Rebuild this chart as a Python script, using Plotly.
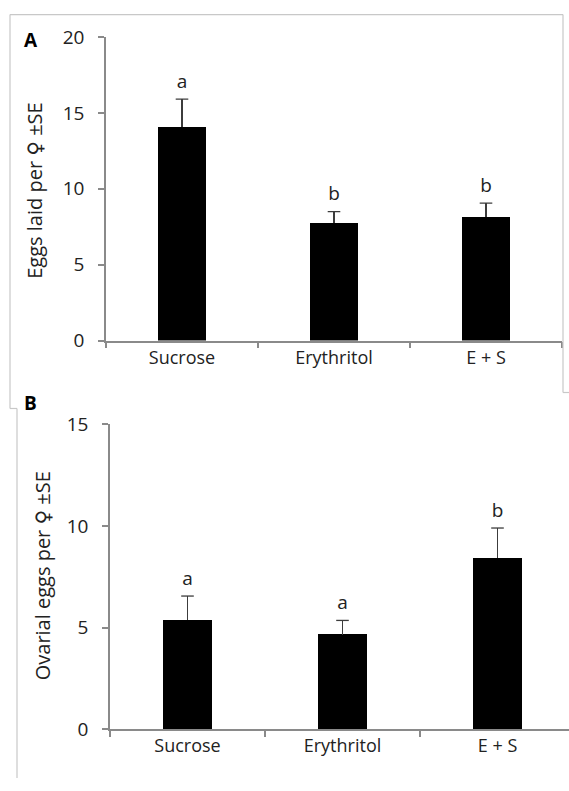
import plotly.graph_objects as go

categories = ["Sucrose", "Erythritol", "E + S"]

eggs_laid = [14.05, 7.75, 8.15]
eggs_laid_err_top = [15.9, 8.5, 9.05]
eggs_laid_letters = ["a", "b", "b"]

ovarial_eggs = [5.35, 4.65, 8.4]
ovarial_eggs_err_top = [6.55, 5.35, 9.9]
ovarial_letters = ["a", "a", "b"]

y_ticks_a = [0, 5, 10, 15, 20]
y_ticks_b = [0, 5, 10, 15]

title_a = "Eggs laid per \u2640 \u00b1SE"
title_b = "Ovarial eggs per \u2640 \u00b1SE"

W, H = 569, 791
FONT = "Open Sans"
AXCOL = "#8a8a8a"
ERRCOL = "#3c3c3c"


def px(x):
    return x / W


def py(y):
    # vertical placement as observed in the photographed page
    return (778 - y) / 766


fig = go.Figure()


def add_panel(vals, err_top, letters, xa, ya):
    plus = [e - v for e, v in zip(err_top, vals)]
    fig.add_trace(go.Bar(
        x=categories, y=vals, width=0.31,
        marker=dict(color="black", line=dict(width=0)),
        error_y=dict(type="data", array=plus, arrayminus=[0] * len(vals),
                     symmetric=False, color=ERRCOL, thickness=1.3, width=0),
        xaxis=xa, yaxis=ya, showlegend=False, hoverinfo="skip"))
    fig.add_trace(go.Scatter(
        x=categories, y=err_top, mode="markers+text", text=letters,
        marker=dict(symbol="line-ew", size=9,
                    line=dict(color=ERRCOL, width=1.3)),
        textposition="top center",
        textfont=dict(family=FONT, size=19, color="#222"),
        xaxis=xa, yaxis=ya, showlegend=False, hoverinfo="skip"))


add_panel(eggs_laid, eggs_laid_err_top, eggs_laid_letters, "x", "y")
add_panel(ovarial_eggs, ovarial_eggs_err_top, ovarial_letters, "x2", "y2")

xcommon = dict(type="category", showline=True, linecolor=AXCOL, linewidth=1.5,
               ticks="outside", tickson="boundaries", ticklen=6, tickcolor=AXCOL,
               tickwidth=1.5, showgrid=False, zeroline=False,
               tickfont=dict(family=FONT, size=18, color="#222"),
               fixedrange=True)
ycommon = dict(showline=True, linecolor=AXCOL, linewidth=1.5, ticks="outside",
               ticklen=6, tickcolor=AXCOL, tickwidth=1.5, showgrid=False,
               zeroline=False, tickfont=dict(family=FONT, size=19, color="#222"),
               ticklabelstandoff=10, fixedrange=True)

fig.update_layout(
    width=W, height=H, autosize=False,
    margin=dict(l=0, r=0, t=0, b=0, pad=0),
    paper_bgcolor="white", plot_bgcolor="white",
    font=dict(family=FONT, color="#222"),
    bargap=0,
    xaxis=dict(xcommon, domain=[px(106), px(562)], range=[-0.5, 2.5],
               anchor="y"),
    yaxis=dict(ycommon, domain=[py(340), py(36)], range=[0, 20],
               tickvals=y_ticks_a, anchor="x"),
    xaxis2=dict(xcommon, domain=[px(110), 1.0], range=[-0.5, 2.5 - 6 / 155],
                anchor="y2"),
    yaxis2=dict(ycommon, domain=[py(729), py(424)], range=[0, 15],
                tickvals=y_ticks_b, anchor="x2"),
)

FEM = '<span style="font-family:DejaVu Sans">\u2640</span>'
for txt, cx, cy in [(title_a, 35, 190), (title_b, 42, 576)]:
    fig.add_annotation(text=txt.replace("\u2640", FEM), textangle=-90,
                       x=px(cx), y=py(cy), xref="paper", yref="paper",
                       xanchor="center", yanchor="middle", showarrow=False,
                       font=dict(family=FONT, size=20, color="#222"))

fig.add_annotation(text="<b>A</b>", x=px(22), y=py(24), xref="paper", yref="paper",
                   showarrow=False, font=dict(family=FONT, size=19, color="black"))
fig.add_annotation(text="<b>B</b>", x=px(22), y=py(403), xref="paper", yref="paper",
                   showarrow=False, font=dict(family=FONT, size=19, color="black"))

frame = dict(color="#c8c8c8", width=1.2)
top = 0.998
for x0, y0, x1, y1 in [(10, None, 563, None), (10, None, 10, 408),
                       (563, None, 563, 392), (563, 392, 569, 392),
                       (10, 408, 17, 408), (17, 408, 17, 778)]:
    fig.add_shape(type="line", xref="paper", yref="paper",
                  x0=px(x0), y0=top if y0 is None else py(y0),
                  x1=px(x1), y1=top if y1 is None else py(y1), line=frame)

fig.write_html(
    "out.html",
    config={"displayModeBar": False},
    post_script="document.body.style.margin='0';document.body.style.overflow='hidden';",
)
